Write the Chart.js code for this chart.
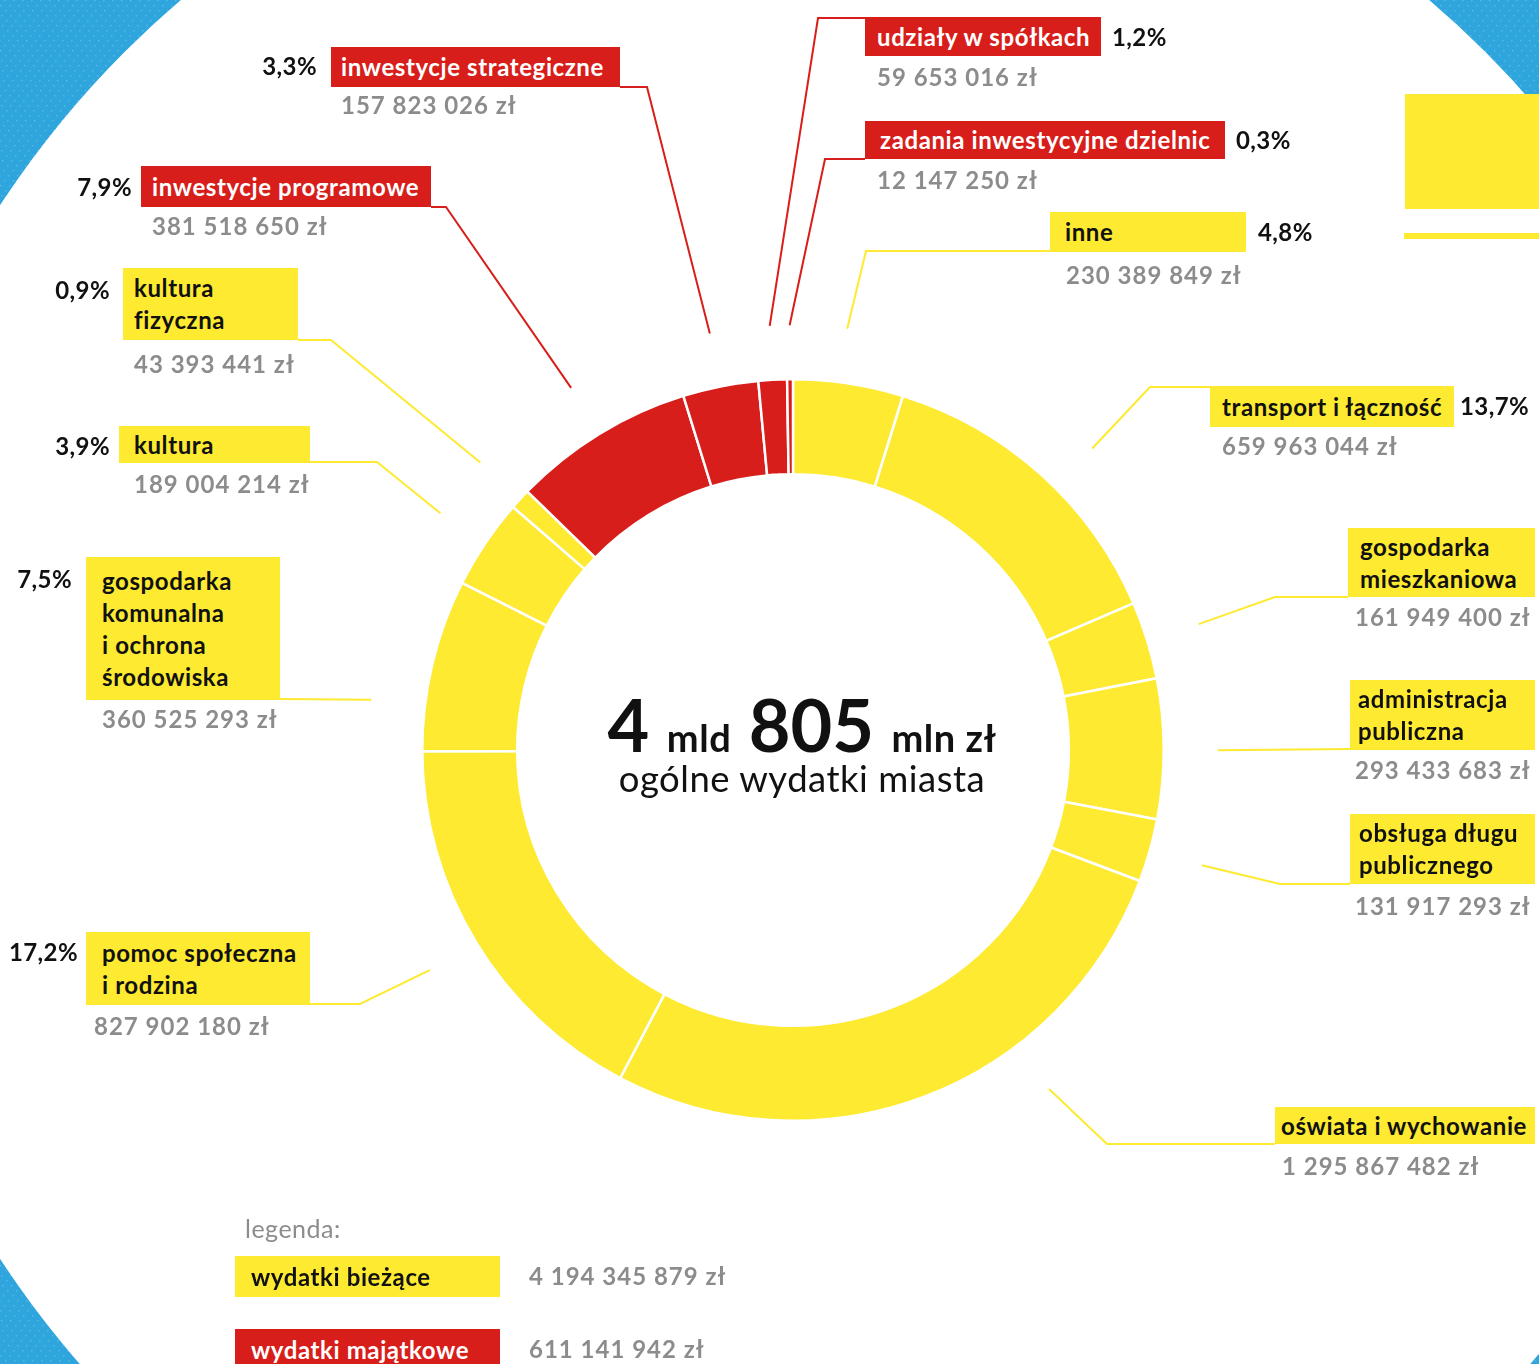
<!DOCTYPE html>
<html lang="pl">
<head>
<meta charset="utf-8">
<title>Ogólne wydatki miasta</title>
<script src="https://cdn.jsdelivr.net/npm/chart.js@4.4.1/dist/chart.umd.min.js"></script>
<style>
  html, body { margin: 0; padding: 0; background: #fff; }
  #stage {
    position: relative; width: 1539px; height: 1364px; overflow: hidden;
    font-family: Lato, "Open Sans", sans-serif;
  }
  #wydatki { position: absolute; left: 0; top: 0; }
  .box {
    position: absolute; box-sizing: border-box;
    display: flex; flex-direction: column; justify-content: center;
    font-weight: 700; font-size: 24px; letter-spacing: 0.6px;
    line-height: 32px; white-space: pre-line;
  }
  .amt, .pct {
    position: absolute; height: 30px; line-height: 30px;
    font-weight: 700; font-size: 24px; white-space: nowrap;
  }
  .amt { color: #8c8c8c; letter-spacing: 1px; }
  .pct { color: #111; letter-spacing: 0.4px; }
  .deco { position: absolute; background: #fdea31; }
  #center1 {
    position: absolute; left: 502px; width: 600px; top: 688px;
    text-align: center; font-weight: 700; font-size: 72px; line-height: 72px; color: #111;
  }
  #center1 span.small { font-size: 38px; letter-spacing: 0.5px; }
  #center2 {
    position: absolute; left: 502px; width: 600px; top: 760px;
    text-align: center; font-size: 36.5px; line-height: 36.5px; letter-spacing: 0.5px; color: #111;
  }
  #legendTitle {
    position: absolute; left: 245px; top: 1213px;
    font-size: 25px; line-height: 30px; letter-spacing: 0.5px; color: #8c8c8c;
  }
</style>
</head>
<body>
<div id="stage">
  <canvas id="wydatki" width="1539" height="1364"></canvas>
</div>
<script>
// categories, clockwise from 12 o'clock
const categories = [
  "inne",
  "transport i łączność",
  "gospodarka\nmieszkaniowa",
  "administracja\npubliczna",
  "obsługa długu\npublicznego",
  "oświata i wychowanie",
  "pomoc społeczna\ni rodzina",
  "gospodarka\nkomunalna\ni ochrona\nśrodowiska",
  "kultura",
  "kultura\nfizyczna",
  "inwestycje programowe",
  "inwestycje strategiczne",
  "udziały w spółkach",
  "zadania inwestycyjne dzielnic"
];
// amounts in zł
const amounts = [
  230389849, 659963044, 161949400, 293433683, 131917293, 1295867482,
  827902180, 360525293, 189004214, 43393441,
  381518650, 157823026, 59653016, 12147250
];
const shares = [
  "4,8%", "13,7%", null, null, null, null,
  "17,2%", "7,5%", "3,9%", "0,9%",
  "7,9%", "3,3%", "1,2%", "0,3%"
];
// 0 = wydatki bieżące, 1 = wydatki majątkowe
const groups = [0, 0, 0, 0, 0, 0, 0, 0, 0, 0, 1, 1, 1, 1];

const legendLabels = ["wydatki bieżące", "wydatki majątkowe"];
const legendTotals = [4194345879, 611141942];

const YELLOW = "#fdea31";
const RED = "#d81e1a";
const BLUE = "#2ea6dd";
const groupColors = [YELLOW, RED];
const groupText = ["#111", "#fff"];

// label placement: box [x, y, w, h], text padding, amount [x, cy],
// share [x, cy, side], leader points before the ring, angle nudge in degrees
const layout = [
  { box: [1050, 212, 196, 40], pad: 15, amt: [1066, 275], pct: [1258, 232, "L"], lead: [[1050, 251], [866, 251]], nudge: -1.3 },
  { box: [1210, 386, 244, 41], pad: 12, amt: [1222, 446], pct: [1460, 406, "L"], lead: [[1210, 387], [1150, 387]], nudge: 2.8 },
  { box: [1348, 528, 187, 69], pad: 12, amt: [1355, 617], lead: [[1348, 597], [1275, 597]] },
  { box: [1350, 680, 185, 70], pad: 8, amt: [1355, 770], lead: [[1350, 749]], nudge: 0.2 },
  { box: [1350, 814, 185, 70], pad: 9, amt: [1355, 906], lead: [[1350, 884], [1280, 884]] },
  { box: [1275, 1107, 260, 37], pad: 6, amt: [1282, 1166], lead: [[1275, 1144], [1107, 1144]], nudge: -16.3 },
  { box: [86, 932, 224, 73], pad: 16, amt: [94, 1026], pct: [78, 952, "R"], lead: [[310, 1004], [360, 1004]] },
  { box: [86, 557, 194, 143], pad: 16, amt: [102, 719], pct: [72, 579, "R"], lead: [[280, 699]], nudge: -6.5 },
  { box: [119, 426, 191, 37], pad: 15, amt: [134, 484], pct: [110, 446, "R"], lead: [[310, 462], [377, 462]] },
  { box: [123, 268, 175, 72], pad: 11, amt: [134, 364], pct: [110, 290, "R"], lead: [[298, 340], [331, 340]] },
  { box: [141, 166, 290, 41], pad: 11, amt: [152, 226], pct: [132, 187, "R"], lead: [[431, 207], [446, 207]] },
  { box: [331, 47, 289, 40], pad: 10, amt: [341, 105], pct: [317, 66, "R"], lead: [[620, 87], [647, 87]] },
  { box: [865, 17, 236, 39], pad: 12, amt: [877, 77], pct: [1112, 37, "L"], lead: [[865, 18], [818, 18]] },
  { box: [865, 121, 360, 38], pad: 15, amt: [877, 180], pct: [1236, 140, "L"], lead: [[865, 159], [825, 159]] }
];

const fmt = (n) => String(n).replace(/\B(?=(\d{3})+(?!\d))/g, " ") + " zł";

const stage = document.getElementById("stage");
const add = (cls, text, css) => {
  const el = document.createElement("div");
  el.className = cls;
  el.textContent = text;
  Object.assign(el.style, css);
  stage.appendChild(el);
  return el;
};

categories.forEach((name, i) => {
  const L = layout[i];
  const g = groups[i];
  add("box", name, {
    left: L.box[0] + "px", top: L.box[1] + "px",
    width: L.box[2] + "px", height: L.box[3] + "px",
    paddingLeft: L.pad + "px",
    background: groupColors[g], color: groupText[g]
  });
  add("amt", fmt(amounts[i]), { left: L.amt[0] + "px", top: (L.amt[1] - 15) + "px" });
  if (shares[i] && L.pct) {
    const css = { top: (L.pct[1] - 15) + "px" };
    if (L.pct[2] === "R") css.right = (1539 - L.pct[0]) + "px";
    else css.left = L.pct[0] + "px";
    add("pct", shares[i], css);
  }
});

// legend
add("", "legenda:", {}).id = "legendTitle";
legendLabels.forEach((lab, i) => {
  const top = 1256 + i * 73;
  add("box", lab, {
    left: "235px", top: top + "px", width: "265px", height: "41px",
    paddingLeft: "16px", background: groupColors[i], color: groupText[i]
  });
  add("amt", fmt(legendTotals[i]), { left: "529px", top: (top + 5) + "px" });
});

// decorative cut-off panel at top right
add("deco", "", { left: "1405px", top: "94px", width: "134px", height: "115px" });
add("deco", "", { left: "1404px", top: "233px", width: "135px", height: "6px" });

// centre caption
const c1 = document.createElement("div");
c1.id = "center1";
c1.innerHTML = '4 <span class="small">mld</span> 805 <span class="small">mln zł</span>';
stage.appendChild(c1);
const c2 = document.createElement("div");
c2.id = "center2";
c2.textContent = "ogólne wydatki miasta";
stage.appendChild(c2);

const backdrop = {
  id: "backdrop",
  beforeDraw(chart) {
    const ctx = chart.ctx;
    ctx.save();
    ctx.fillStyle = BLUE;
    ctx.fillRect(0, 0, chart.width, chart.height);
    ctx.fillStyle = "rgba(255,255,255,0.2)";
    for (let k = -chart.height; k < chart.width; k += 9) {
      for (let t = 0; t < chart.height; t += 5) {
        ctx.fillRect(k + t, t, 1.5, 1.5);
      }
    }
    ctx.fillStyle = "#fff";
    ctx.beginPath();
    ctx.arc(805, 732, 962, 0, Math.PI * 2);
    ctx.fill();
    ctx.restore();
  }
};

const leaders = {
  id: "leaders",
  afterDatasetsDraw(chart) {
    const ctx = chart.ctx;
    const arcs = chart.getDatasetMeta(0).data;
    ctx.save();
    ctx.lineWidth = 2;
    ctx.lineJoin = "miter";
    arcs.forEach((arc, i) => {
      const L = layout[i];
      const p = arc.getProps(["x", "y", "startAngle", "endAngle", "outerRadius"], true);
      const a = (p.startAngle + p.endAngle) / 2 + ((L.nudge || 0) * Math.PI) / 180;
      const r = p.outerRadius + 54;
      ctx.strokeStyle = groupColors[groups[i]];
      ctx.beginPath();
      ctx.moveTo(L.lead[0][0], L.lead[0][1]);
      L.lead.slice(1).forEach((pt) => ctx.lineTo(pt[0], pt[1]));
      ctx.lineTo(p.x + r * Math.cos(a), p.y + r * Math.sin(a));
      ctx.stroke();
    });
    ctx.restore();
  }
};

new Chart(document.getElementById("wydatki"), {
  type: "doughnut",
  data: {
    labels: categories.map((c) => c.replace(/\n/g, " ")),
    datasets: [{
      data: amounts,
      backgroundColor: groups.map((g) => groupColors[g]),
      borderColor: "#fff",
      borderWidth: 2.5,
      hoverOffset: 0
    }]
  },
  options: {
    responsive: false,
    animation: false,
    cutout: "74.4%",
    layout: { padding: { left: 421, top: 378, right: 374, bottom: 242 } },
    events: [],
    plugins: { legend: { display: false }, tooltip: { enabled: false } }
  },
  plugins: [backdrop, leaders]
});
</script>
</body>
</html>
